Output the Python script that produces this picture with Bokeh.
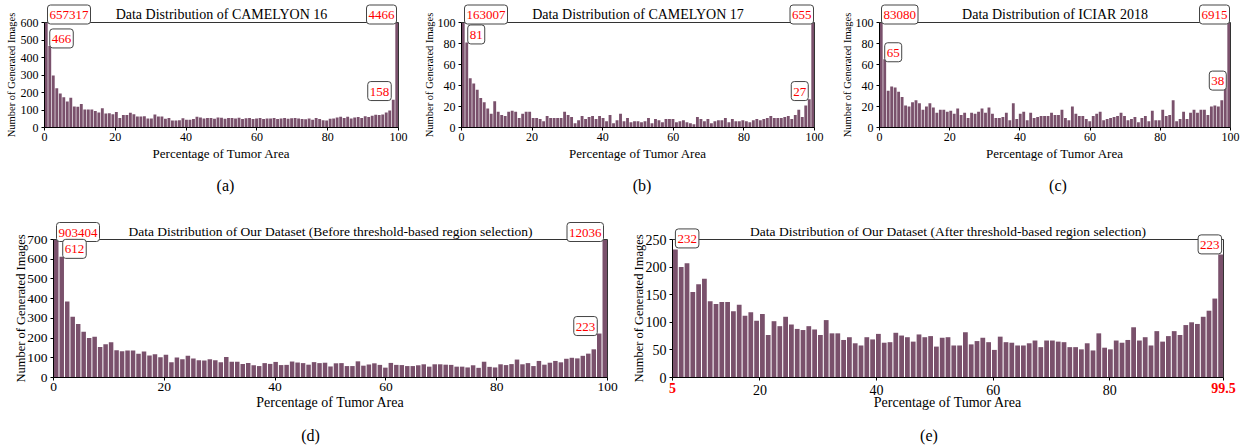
import math
from bokeh.plotting import figure
from bokeh.layouts import column, row
from bokeh.models import Label, FixedTicker, Range1d, ColumnDataSource
from bokeh.embed import file_html
from bokeh.resources import INLINE

FONT = "Liberation Serif"
BAR = "#7a516c"
EDGE = "#333333"

# ---------------- data ----------------
pct_full = list(range(101))          # 0 .. 100 %
pct_after = list(range(5, 100))      # 5 .. 99.5 %

cam16 = [657317, 466, 297, 225, 195, 173, 149, 170, 120, 118,
         135, 103, 103, 103, 95, 86, 110, 80, 82, 76,
         89, 55, 72, 72, 84, 76, 63, 63, 65, 51,
         51, 74, 63, 63, 50, 55, 40, 40, 42, 53,
         45, 44, 48, 61, 57, 52, 55, 54, 50, 57,
         56, 50, 55, 54, 52, 56, 48, 53, 55, 49,
         52, 54, 49, 52, 51, 54, 48, 52, 54, 50,
         53, 54, 52, 49, 47, 52, 44, 54, 48, 42,
         40, 50, 52, 57, 62, 54, 62, 52, 57, 60,
         55, 64, 60, 67, 73, 72, 74, 86, 97, 158,
         4466]

cam17 = [163007, 81, 47, 42, 36, 28, 24, 18, 13, 25,
         15, 12, 11, 15, 16, 15, 9, 13, 15, 15,
         9, 9, 8, 6, 11, 9, 9, 9, 9, 15,
         12, 10, 4, 7, 11, 8, 10, 11, 8, 11,
         9, 6, 12, 4, 7, 13, 6, 9, 5, 6,
         6, 5, 6, 9, 4, 8, 7, 5, 8, 8,
         8, 5, 6, 7, 5, 4, 3, 10, 8, 6,
         8, 4, 6, 7, 7, 9, 5, 8, 6, 6,
         7, 6, 5, 7, 8, 7, 8, 9, 11, 9,
         9, 9, 10, 11, 8, 12, 17, 10, 21, 27,
         655]

iciar = [83080, 65, 35, 39, 38, 34, 29, 21, 20, 24,
         26, 23, 17, 20, 23, 19, 14, 17, 17, 15,
         16, 13, 18, 12, 14, 9, 14, 13, 15, 18,
         14, 19, 13, 9, 9, 10, 14, 7, 23, 8,
         13, 15, 7, 14, 9, 10, 11, 11, 11, 14,
         12, 12, 17, 9, 7, 20, 13, 11, 11, 8,
         6, 11, 13, 15, 7, 8, 9, 10, 11, 14,
         11, 7, 8, 10, 5, 9, 11, 6, 16, 7,
         7, 17, 11, 12, 26, 6, 8, 15, 8, 14,
         17, 14, 17, 17, 12, 20, 21, 20, 26, 38,
         6915]

ours_before = [903404, 612, 386, 308, 271, 232, 200, 207, 155, 169,
               179, 138, 133, 137, 137, 120, 132, 112, 118, 103,
               115, 77, 102, 93, 110, 96, 88, 86, 93, 87,
               77, 104, 80, 80, 68, 73, 62, 58, 73, 69,
               79, 63, 64, 81, 76, 73, 65, 78, 73, 75,
               56, 72, 73, 58, 58, 82, 60, 66, 72, 64,
               50, 74, 64, 63, 58, 58, 62, 67, 55, 67,
               67, 65, 64, 55, 55, 51, 62, 49, 80, 54,
               51, 67, 63, 68, 91, 67, 73, 58, 84, 65,
               75, 84, 77, 95, 100, 97, 110, 121, 143, 223,
               12036]

# after threshold-based region selection: 5 % .. 99.5 %
ours_after = ours_before[5:100]

YLABEL = "Number of Generated Images"
XLABEL = "Percentage of Tumor Area"
PAD = dict(left=2, right=2, top=6, bottom=5)


def txt(p, x, y, text, fs, xoff=0, yoff=0, align="center", base="middle",
        angle=0.0, color="black", style="normal"):
    p.add_layout(Label(x=x, y=y, x_offset=xoff, y_offset=yoff, text=text,
                       text_align=align, text_baseline=base, angle=angle,
                       text_font=FONT, text_font_size=fs, text_color=color,
                       text_font_style=style))


def panel(counts, pcts, xlo, xhi, ymax, ystep, title, caption, W, H,
          L, R, T, B, tick_fs, ylab_fs, xlab_fs, title_fs, xticks,
          ylab_dx, xlab_dy, cap_dy, cap_dx):
    ux = (xhi - xlo) / (W - L - R)
    uy = ymax / (H - T - B)
    p = figure(width=W, height=H,
               x_range=Range1d(xlo - L * ux, xhi + R * ux),
               y_range=Range1d(-B * uy, ymax + T * uy),
               output_backend="svg", toolbar_location=None,
               min_border=0, min_border_left=0, min_border_right=0,
               min_border_top=0, min_border_bottom=0)
    p.outline_line_color = None
    p.grid.visible = False
    p.background_fill_color = "white"
    p.border_fill_color = "white"

    n = len(counts)
    binw = (xhi - xlo) / n
    centers = [xlo + (i + 0.5) * binw for i in range(n)]
    shown = [min(v, ymax) for v in counts]
    src = ColumnDataSource(dict(x=centers, top=shown, pct=pcts))
    p.vbar(x="x", top="top", width=binw * 0.82, bottom=0, source=src,
           fill_color=BAR, line_color=None)

    # frame: top and right edges
    p.segment(x0=[xlo, xhi], y0=[ymax, 0], x1=[xhi, xhi], y1=[ymax, ymax],
              line_color=EDGE, line_width=1)

    for ax in (p.xaxis[0], p.yaxis[0]):
        ax.axis_line_color = "black"
        ax.axis_line_width = 1
        ax.major_tick_line_color = "black"
        ax.major_tick_out = 3
        ax.major_tick_in = 0
        ax.minor_tick_line_color = None
        ax.major_label_text_font = FONT
        ax.major_label_text_font_size = tick_fs
        ax.major_label_text_color = "black"
    p.xaxis.fixed_location = 0
    p.yaxis.fixed_location = xlo
    p.xaxis.bounds = (xlo, xhi)
    p.yaxis.bounds = (0, ymax)
    p.yaxis.ticker = FixedTicker(ticks=list(range(0, ymax + 1, ystep)))
    p.xaxis.ticker = FixedTicker(ticks=xticks)
    p.yaxis.major_label_standoff = 3
    p.xaxis.major_label_standoff = 2

    mid = (xlo + xhi) / 2
    txt(p, mid, ymax, title, title_fs, yoff=1, base="bottom")
    txt(p, xlo, ymax / 2, YLABEL, ylab_fs, xoff=-ylab_dx, angle=math.pi / 2)
    txt(p, mid, 0, XLABEL, xlab_fs, yoff=-xlab_dy)
    txt(p, mid, 0, caption, "16px", xoff=cap_dx, yoff=-cap_dy)
    return p, centers


def box(p, x, y, text, align, xoff=0, yoff=0, fs="13px"):
    p.add_layout(Label(x=x, y=y, x_offset=xoff, y_offset=yoff - 2, text=text,
                       text_align=align, text_baseline="bottom",
                       text_font=FONT, text_font_size=fs, text_color="red",
                       background_fill_color="white",
                       background_fill_alpha=1.0,
                       border_line_color="#444444", border_line_width=1,
                       padding=PAD, border_radius=3))


top_ticks = [0, 20, 40, 60, 80, 100]

# ---- (a) ----
pa, ca = panel(cam16, pct_full, 0, 100, 600, 100,
               "Data Distribution of CAMELYON 16", "(a)",
               420, 212, 44, 22, 22, 85, "12px", "10.5px", "13px", "14px",
               top_ticks, 33, 26, 58, 4)
box(pa, 0, 600, str(cam16[0]), "left", xoff=3, yoff=0.5)
box(pa, 100, 600, str(cam16[-1]), "right", xoff=-2, yoff=0.5)
box(pa, ca[1], cam16[1], str(cam16[1]), "left", xoff=0, yoff=0)
box(pa, ca[-2], cam16[-2], str(cam16[-2]), "right", xoff=-2, yoff=1.3)

# ---- (b) ----
pb, cb = panel(cam17, pct_full, 0, 100, 100, 20,
               "Data Distribution of CAMELYON 17", "(b)",
               418, 212, 41, 24, 22, 85, "12px", "10.5px", "13px", "14px",
               top_ticks, 32.5, 26, 58, 4)
box(pb, 0, 100, str(cam17[0]), "left", xoff=3, yoff=0.5)
box(pb, 100, 100, str(cam17[-1]), "right", xoff=-1, yoff=0.5)
box(pb, cb[1], cam17[1], str(cam17[1]), "left", xoff=1, yoff=0.5)
box(pb, cb[-2], cam17[-2], str(cam17[-2]), "right", xoff=-1, yoff=0.6)

# ---- (c) ----
pc, cc = panel(iciar, pct_full, 0, 100, 100, 20,
               "Data Distribution of ICIAR 2018", "(c)",
               411, 212, 41, 19, 22, 85, "12px", "10.5px", "13px", "14px",
               top_ticks, 32.5, 26, 58, 3)
box(pc, 0, 100, str(iciar[0]), "left", xoff=2, yoff=0.5)
box(pc, 100, 100, str(iciar[-1]), "right", xoff=-1, yoff=0.5)
box(pc, cc[1], iciar[1], str(iciar[1]), "left", xoff=0, yoff=-0.5)
box(pc, cc[-2], iciar[-2], str(iciar[-2]), "right", xoff=1, yoff=-0.5)

# ---- (d) ----
pd_, cd = panel(ours_before, pct_full, 0, 100, 700, 100,
                "Data Distribution of Our Dataset (Before threshold-based region selection)",
                "(d)", 625, 236, 53, 18, 27, 71, "13.5px", "12.5px", "14px", "13.5px",
                top_ticks, 33, 25, 58, -20)
box(pd_, 0, 700, str(ours_before[0]), "left", xoff=3, yoff=0)
box(pd_, 100, 700, str(ours_before[-1]), "right", xoff=-4, yoff=0)
box(pd_, cd[1], ours_before[1], str(ours_before[1]), "left", xoff=1, yoff=0.5)
box(pd_, cd[-2], ours_before[-2], str(ours_before[-2]), "right", xoff=-2, yoff=0)

# ---- (e) ----
pe, ce = panel(ours_after, pct_after, 5, 99.5, 250, 50,
               "Data Distribution of Our Dataset (After threshold-based region selection)",
               "(e)", 624, 236, 47, 26, 27, 71, "14px", "12.5px", "14px", "13.5px",
               [5, 20, 40, 60, 80, 99.5], 34, 25, 58, -19)
pe.xaxis.major_label_overrides = {5: " ", 99.5: " "}
box(pe, ce[0], ours_after[0], str(ours_after[0]), "left", xoff=0, yoff=3.5)
box(pe, ce[-1], ours_after[-1], str(ours_after[-1]), "right", xoff=1, yoff=2.5)
for xv, t in ((5, "5"), (99.5, "99.5")):
    txt(pe, xv, 0, t, "14px", yoff=-5, base="top", color="red", style="bold")

layout = column(row(pa, pb, pc), row(pd_, pe))

open("out.html", "w").write(file_html(layout, INLINE))
